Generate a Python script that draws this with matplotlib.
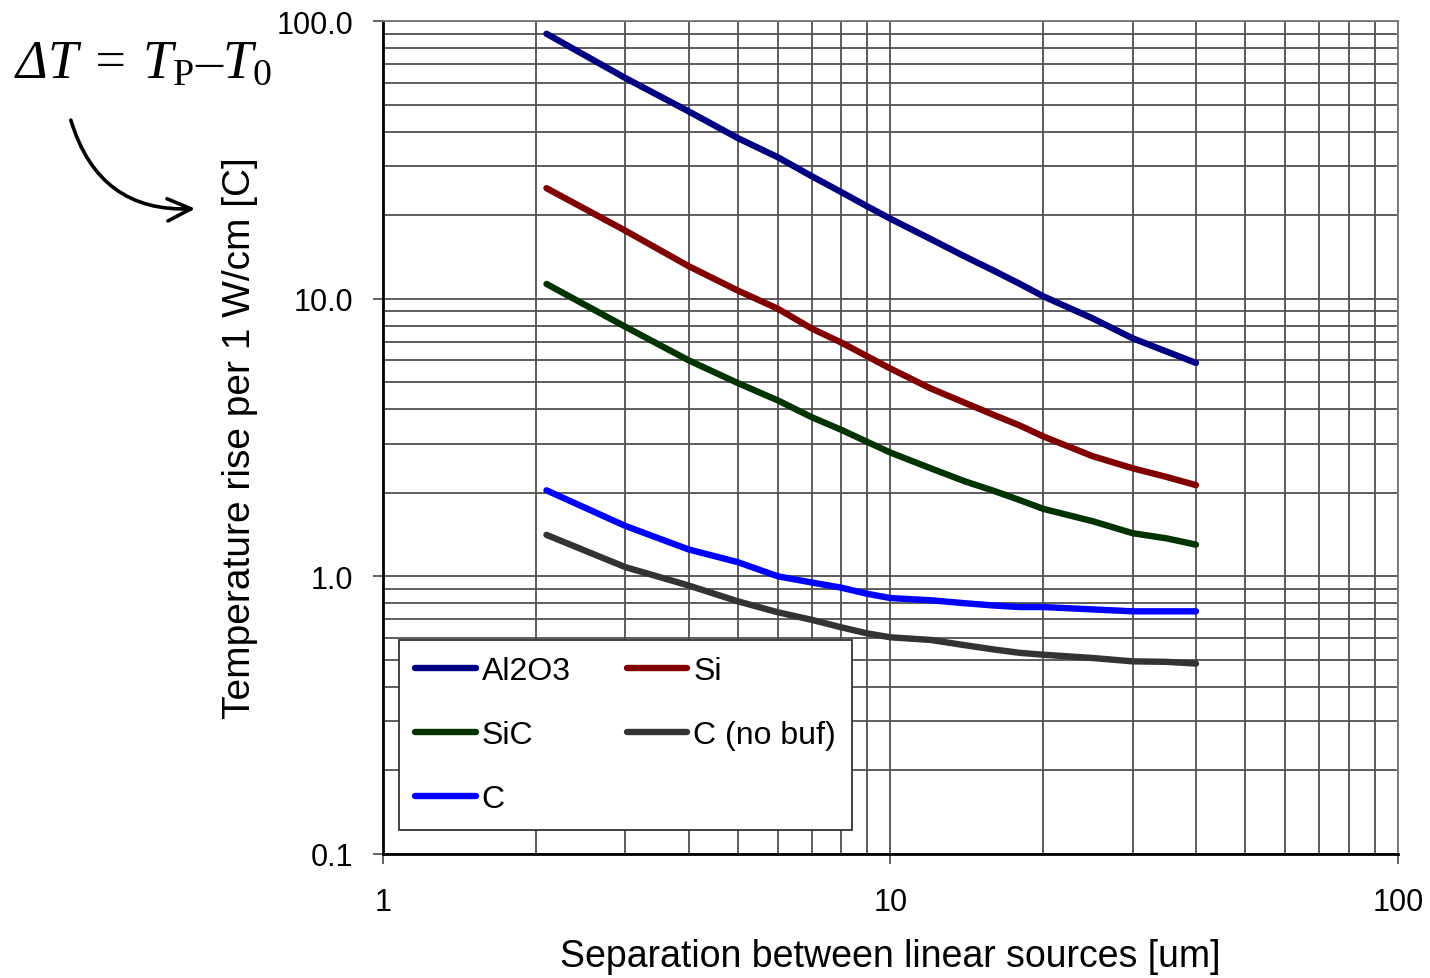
import matplotlib
matplotlib.use("Agg")
import matplotlib.pyplot as plt
from matplotlib.ticker import FixedLocator, FuncFormatter, NullFormatter, LogLocator

plt.rcParams['font.family'] = ['Liberation Sans', 'DejaVu Sans']
# serif math: rm is italic so that the capital Delta gets slanted too,
# sf holds the upright serif for the subscripts
plt.rcParams['mathtext.fontset'] = 'custom'
plt.rcParams['mathtext.rm'] = 'Liberation Serif:italic'
plt.rcParams['mathtext.it'] = 'Liberation Serif:italic'
plt.rcParams['mathtext.sf'] = 'Liberation Serif'

# separation between linear sources [um]
sep = [2.1, 3, 4, 5, 6, 7, 8, 9, 10, 12, 14, 16, 18, 20, 25, 30, 35, 40]

# temperature rise per 1 W/cm [C]
al2o3 = [90, 62.4, 47.3, 37.9, 32.3, 27.6, 24.2, 21.5, 19.4, 16.4, 14.2, 12.6, 11.3, 10.2, 8.5, 7.2, 6.45, 5.87]
si = [25.0, 17.6, 13.1, 10.7, 9.2, 7.8, 6.95, 6.2, 5.6, 4.75, 4.22, 3.81, 3.49, 3.19, 2.71, 2.45, 2.28, 2.13]
sic = [11.3, 7.93, 6.0, 4.97, 4.3, 3.74, 3.37, 3.05, 2.79, 2.45, 2.2, 2.03, 1.88, 1.75, 1.58, 1.43, 1.37, 1.30]
c = [2.04, 1.52, 1.25, 1.125, 1.0, 0.95, 0.91, 0.865, 0.835, 0.82, 0.80, 0.785, 0.775, 0.775, 0.76, 0.748, 0.748, 0.748]
c_nobuf = [1.41, 1.08, 0.927, 0.813, 0.742, 0.697, 0.655, 0.623, 0.603, 0.59, 0.565, 0.545, 0.53, 0.522, 0.508, 0.494, 0.492, 0.485]

# legend fills column-wise: left column first, then right column
series = [
    ("Al2O3", al2o3, "#000080"),
    ("SiC", sic, "#003300"),
    ("C", c, "#0000ff"),
    ("Si", si, "#800000"),
    ("C (no buf)", c_nobuf, "#333333"),
]

fig = plt.figure(figsize=(14.3, 9.79), dpi=100)
ax = fig.add_axes([0.2678, 0.1267, 0.7098, 0.8508])

for name, vals, col in series:
    ax.plot(sep, vals, color=col, lw=4.6, label=name, solid_capstyle='round', zorder=3)

ax.set_xscale('log')
ax.set_yscale('log')
ax.set_xlim(1, 100)
ax.set_ylim(0.1, 100)

ax.yaxis.set_major_locator(FixedLocator([0.1, 1, 10, 100]))
ax.yaxis.set_major_formatter(FuncFormatter(lambda v, p: f"{v:.1f}"))
ax.yaxis.set_minor_locator(LogLocator(base=10, subs=range(2, 10)))
ax.yaxis.set_minor_formatter(NullFormatter())
ax.xaxis.set_major_locator(FixedLocator([1, 10, 100]))
ax.xaxis.set_major_formatter(FuncFormatter(lambda v, p: f"{v:g}"))
ax.xaxis.set_minor_locator(LogLocator(base=10, subs=range(2, 10)))
ax.xaxis.set_minor_formatter(NullFormatter())

ax.grid(True, which='both', color='#505050', lw=1.3)
ax.tick_params(which='major', labelsize=22, length=7, width=1.3, color='#555555')
ax.tick_params(axis='x', which='major', pad=17)
ax.tick_params(axis='y', which='major', pad=14.5)
ax.tick_params(which='minor', length=0)
for s in ax.spines.values():
    s.set_color('#777777')
    s.set_linewidth(1.3)
ax.spines['left'].set_color('black')
ax.spines['left'].set_linewidth(2)
ax.spines['bottom'].set_color('black')
ax.spines['bottom'].set_linewidth(2)

ax.set_xlabel("Separation between linear sources [um]", fontsize=27, labelpad=15)
ax.set_ylabel("Temperature rise per 1 W/cm [C]", fontsize=28, labelpad=13)

leg = ax.legend(ncol=2, loc='upper left', bbox_to_anchor=(0.0158, 0.2569),
                borderaxespad=0, fontsize=23, fancybox=False, framealpha=1,
                edgecolor='#333333', handlelength=1.9, handletextpad=0.19,
                labelspacing=1.07, borderpad=0.5, columnspacing=1.75)
leg.get_frame().set_linewidth(1.3)
leg.set_zorder(5)

fig.text(0.010, 0.921, r"$\Delta T\;{=}\;T_{\mathsf{P}}{–}T_{\mathsf{0}}$".replace(r"\;", r"\,"),
         fontsize=39, ha='left', va='baseline')
ax.annotate("", xy=(0.1385, 0.786), xycoords='figure fraction',
            xytext=(0.049, 0.879), textcoords='figure fraction',
            arrowprops=dict(arrowstyle='->,head_length=1.7,head_width=0.8', lw=2.6,
                            color='black', connectionstyle='arc3,rad=0.4'),
            annotation_clip=False)

fig.savefig("out.png", dpi=100)
